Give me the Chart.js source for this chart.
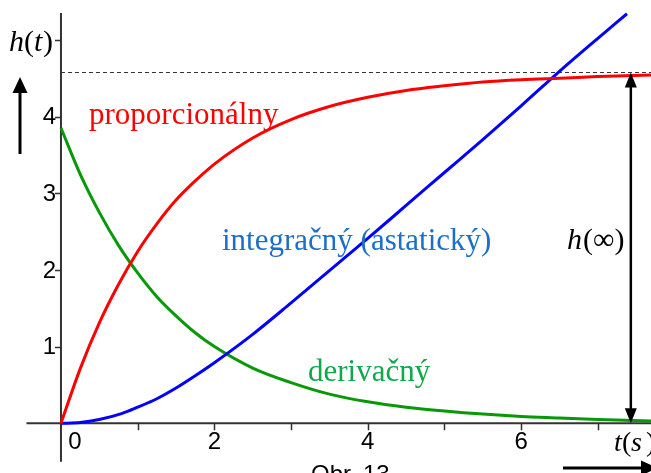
<!DOCTYPE html>
<html>
<head>
<meta charset="utf-8">
<script src="https://cdn.jsdelivr.net/npm/chart.js@4/dist/chart.umd.min.js"></script>
<style>
  html, body { margin: 0; padding: 0; background: #fff; overflow: hidden; }
</style>
</head>
<body>
<canvas id="graf" width="651" height="473"></canvas>
<script>
// hodnoty odcitane z obrazku
const tProp = [0, 0.25, 0.5, 0.75, 1, 1.25, 1.5, 1.75, 2, 2.5, 3, 3.5, 4, 4.5, 5, 5.5, 6, 6.5, 7, 7.7];
const hProp = [0, 0.71, 1.31, 1.81, 2.24, 2.60, 2.91, 3.16, 3.38, 3.72, 3.96, 4.13, 4.25, 4.34, 4.40, 4.45, 4.48, 4.50, 4.52, 4.54];

const tDer = [0, 0.25, 0.5, 0.75, 1, 1.25, 1.5, 1.75, 2, 2.5, 3, 3.5, 4, 4.5, 5, 5.5, 6, 6.5, 7, 7.7];
const hDer = [3.85, 3.25, 2.75, 2.32, 1.96, 1.65, 1.40, 1.18, 1.00, 0.72, 0.53, 0.38, 0.28, 0.21, 0.16, 0.12, 0.09, 0.07, 0.05, 0.03];

const tInt = [0, 0.25, 0.5, 0.8, 1, 1.25, 1.5, 1.75, 2, 2.5, 3, 3.5, 4, 4.5, 5, 5.5, 6, 6.5, 7, 7.38];
const hInt = [0, 0.01, 0.05, 0.13, 0.21, 0.32, 0.46, 0.62, 0.79, 1.16, 1.57, 1.99, 2.41, 2.84, 3.27, 3.70, 4.14, 4.59, 5.02, 5.34];

const hInf = 4.575;
const xTicks = [0, 2, 4, 6];
const xMinorTicks = [1, 3, 5, 7];
const yTicks = [1, 2, 3, 4];
const yMinorTicks = [5];

function toPoints(xs, ys) {
    return xs.map((x, i) => ({ x: x, y: ys[i] }));
}

const serif = '"Liberation Serif", "Times New Roman", serif';
const sans = '"Liberation Sans", Arial, sans-serif';

function arrowHead(ctx, x, y, dx, dy, len, half) {
    // hrot sipky v bode (x,y), smer (dx,dy)
    const px = -dy, py = dx;
    ctx.beginPath();
    ctx.moveTo(x, y);
    ctx.lineTo(x - dx * len + px * half, y - dy * len + py * half);
    ctx.lineTo(x - dx * len - px * half, y - dy * len - py * half);
    ctx.closePath();
    ctx.fill();
}

const osiPlugin = {
    id: 'osi',
    beforeDatasetsDraw(chart) {
        const ctx = chart.ctx;
        const sx = chart.scales.x, sy = chart.scales.y;
        const x0 = sx.getPixelForValue(0), y0 = sy.getPixelForValue(0);
        ctx.save();
        ctx.strokeStyle = '#333';
        ctx.lineWidth = 2;
        ctx.beginPath();
        ctx.moveTo(sx.getPixelForValue(-0.45), y0);
        ctx.lineTo(chart.width, y0);
        ctx.moveTo(x0, sy.getPixelForValue(-0.5));
        ctx.lineTo(x0, sy.getPixelForValue(5.35));
        ctx.stroke();

        ctx.lineWidth = 1.5;
        ctx.beginPath();
        xTicks.concat(xMinorTicks).forEach(v => {
            if (v === 0) return;
            const px = Math.round(sx.getPixelForValue(v)) + 0.5;
            ctx.moveTo(px, y0);
            ctx.lineTo(px, y0 + 7);
        });
        yTicks.concat(yMinorTicks).forEach(v => {
            const py = Math.round(sy.getPixelForValue(v)) + 0.5;
            ctx.moveTo(x0, py);
            ctx.lineTo(x0 - 6, py);
        });
        ctx.stroke();

        // prerusovana ciara h(inf)
        const yInf = Math.round(sy.getPixelForValue(hInf)) + 0.5;
        ctx.strokeStyle = '#333';
        ctx.lineWidth = 1;
        ctx.setLineDash([4, 3]);
        ctx.beginPath();
        ctx.moveTo(x0, yInf);
        ctx.lineTo(chart.width, yInf);
        ctx.stroke();
        ctx.setLineDash([]);

        // popisy osi
        ctx.fillStyle = '#000';
        ctx.font = '24px ' + sans;
        ctx.textBaseline = 'top';
        ctx.textAlign = 'center';
        xTicks.forEach(v => {
            const px = sx.getPixelForValue(v) + (v === 0 ? 14 : 0);
            ctx.fillText(String(v), px, y0 + 7);
        });
        ctx.textAlign = 'right';
        ctx.textBaseline = 'middle';
        yTicks.forEach(v => {
            ctx.fillText(String(v), x0 - 5, sy.getPixelForValue(v) + 1);
        });
        ctx.restore();
    },
    afterDatasetsDraw(chart) {
        const ctx = chart.ctx;
        const sx = chart.scales.x, sy = chart.scales.y;
        const y0 = sy.getPixelForValue(0);
        ctx.save();
        ctx.textBaseline = 'alphabetic';
        ctx.textAlign = 'left';

        // h(t) so sipkou
        ctx.fillStyle = '#000';
        ctx.font = 'italic 30px ' + serif;
        ctx.fillText('h', 9, 51);
        ctx.font = '30px ' + serif;
        let w = ctx.measureText('(').width;
        ctx.fillText('(', 24, 51);
        ctx.font = 'italic 30px ' + serif;
        ctx.fillText('t', 24 + w, 51);
        ctx.font = '30px ' + serif;
        ctx.fillText(')', 24 + w + 9, 51);

        ctx.strokeStyle = '#000';
        ctx.lineWidth = 3;
        ctx.beginPath();
        ctx.moveTo(20, 154);
        ctx.lineTo(20, 90);
        ctx.stroke();
        arrowHead(ctx, 20, 77, 0, -1, 16, 7.5);

        // t(s) so sipkou
        ctx.font = 'italic 28px ' + serif;
        ctx.fillText('t', 614, 451);
        ctx.font = '28px ' + serif;
        ctx.fillText('(', 622, 451);
        ctx.font = 'italic 28px ' + serif;
        ctx.fillText('s', 631, 451);
        ctx.font = '28px ' + serif;
        ctx.fillText(')', 646, 451);
        ctx.lineWidth = 3;
        ctx.beginPath();
        ctx.moveTo(563, 468);
        ctx.lineTo(645, 468);
        ctx.stroke();
        arrowHead(ctx, 658, 468, 1, 0, 17, 7.5);

        // obojstranna sipka h(inf)
        const xa = sx.getPixelForValue(7.43);
        const yInf = sy.getPixelForValue(hInf);
        ctx.lineWidth = 2.5;
        ctx.beginPath();
        ctx.moveTo(xa, yInf + 12);
        ctx.lineTo(xa, y0 - 12);
        ctx.stroke();
        arrowHead(ctx, xa, yInf, 0, -1, 15, 6);
        arrowHead(ctx, xa, y0, 0, 1, 15, 6);

        ctx.font = 'italic 30px ' + serif;
        ctx.fillText('h', 567, 249);
        ctx.font = '30px ' + serif;
        ctx.fillText('(∞)', 583, 249);

        // nazvy priebehov
        ctx.font = '31px ' + serif;
        ctx.fillStyle = '#ff0000';
        ctx.fillText('proporcionálny', 89, 124);
        ctx.fillStyle = '#1a6fc8';
        ctx.fillText('integračný (astatický)', 222, 250);
        ctx.fillStyle = '#10a84a';
        ctx.fillText('derivačný', 308, 381);

        // cislo obrazku (orezane dole)
        ctx.fillStyle = '#000';
        ctx.font = '24px ' + sans;
        ctx.fillText('Obr. 13', 311, 482);
        ctx.restore();
    }
};

const ctx = document.getElementById('graf').getContext('2d');
new Chart(ctx, {
    type: 'line',
    data: {
        datasets: [
            { label: 'proporcionálny', data: toPoints(tProp, hProp), borderColor: '#ff0000' },
            { label: 'integračný (astatický)', data: toPoints(tInt, hInt), borderColor: '#0000ff' },
            { label: 'derivačný', data: toPoints(tDer, hDer), borderColor: '#079907' }
        ]
    },
    options: {
        responsive: false,
        animation: false,
        events: [],
        layout: { padding: 0 },
        elements: {
            point: { radius: 0 },
            line: { borderWidth: 3, cubicInterpolationMode: 'monotone', fill: false }
        },
        plugins: {
            legend: { display: false },
            tooltip: { enabled: false }
        },
        scales: {
            x: { type: 'linear', display: false, min: -0.795, max: 7.693 },
            y: { type: 'linear', display: false, min: -0.648, max: 5.519 }
        }
    },
    plugins: [osiPlugin]
});
</script>
</body>
</html>
